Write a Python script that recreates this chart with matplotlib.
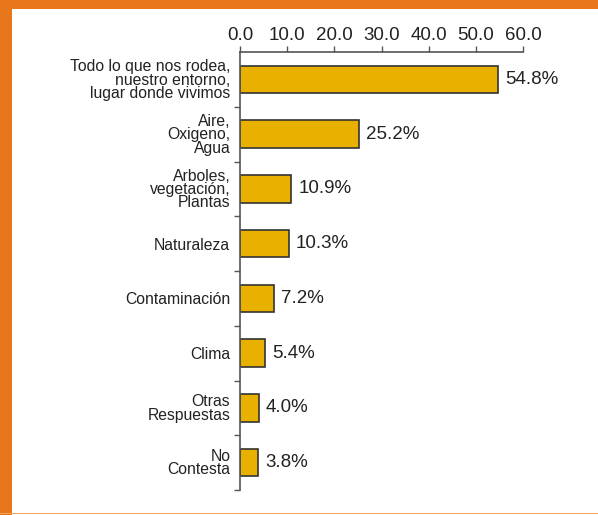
import matplotlib
matplotlib.use('Agg')
import matplotlib.pyplot as plt
from matplotlib.patches import Rectangle

categorias = [
    'Todo lo que nos rodea,\nnuestro entorno,\nlugar donde vivimos',
    'Aire,\nOxigeno,\nAgua',
    'Arboles,\nvegetación,\nPlantas',
    'Naturaleza',
    'Contaminación',
    'Clima',
    'Otras\nRespuestas',
    'No\nContesta',
]
valores = [54.8, 25.2, 10.9, 10.3, 7.2, 5.4, 4.0, 3.8]
ticks_x = [0, 10, 20, 30, 40, 50, 60]

plt.rcParams['font.family'] = ['Liberation Sans', 'DejaVu Sans']

W, H = 598, 515
fig = plt.figure(figsize=(W / 100, H / 100), dpi=100)

# marco naranja
laranja = '#E8761A'
fig.patches.append(Rectangle((0, 1 - 8.5 / H), 1, 8.5 / H, transform=fig.transFigure,
                             facecolor=laranja, edgecolor='none', zorder=0))
fig.patches.append(Rectangle((0, 0), 12 / W, 1, transform=fig.transFigure,
                             facecolor=laranja, edgecolor='none', zorder=0))
fig.patches.append(Rectangle((0, 1 / H), 1, 1.3 / H, transform=fig.transFigure,
                             facecolor='#F2A55A', edgecolor='none', zorder=0))

ax = fig.add_axes([240 / W, 1 - 490 / H, 283 / W, 438 / H])

pos = list(range(len(categorias)))
ax.barh(pos, valores, height=0.5, color='#E8B100', edgecolor='#333333', linewidth=1.2)

for p, v in zip(pos, valores):
    ax.annotate(f'{v:.1f}%', xy=(v, p), xytext=(5, 0), textcoords='offset points',
                va='center', ha='left', fontsize=13.5, color='#222222')

ax.set_xlim(0, 60)
ax.set_ylim(len(categorias) - 0.5, -0.5)
ax.xaxis.tick_top()
ax.set_xticks(ticks_x)
ax.set_xticklabels([f'{t:.1f}' for t in ticks_x], fontsize=13.5, color='#222222')
ax.tick_params(axis='x', direction='out', length=4, width=1, color='#555555', pad=2)

ax.set_yticks([p + 0.5 for p in pos])
ax.set_yticklabels([])
ax.set_yticks(pos, minor=True)
ax.set_yticklabels(categorias, minor=True, fontsize=11.3, color='#222222', linespacing=0.86)
ax.tick_params(axis='y', which='major', direction='out', length=4, width=1, color='#555555')
ax.tick_params(axis='y', which='minor', length=0, pad=7)

for lado in ['right', 'bottom']:
    ax.spines[lado].set_visible(False)
for lado in ['top', 'left']:
    ax.spines[lado].set_color('#555555')
    ax.spines[lado].set_linewidth(1.2)

fig.savefig('out.png', dpi=100)
